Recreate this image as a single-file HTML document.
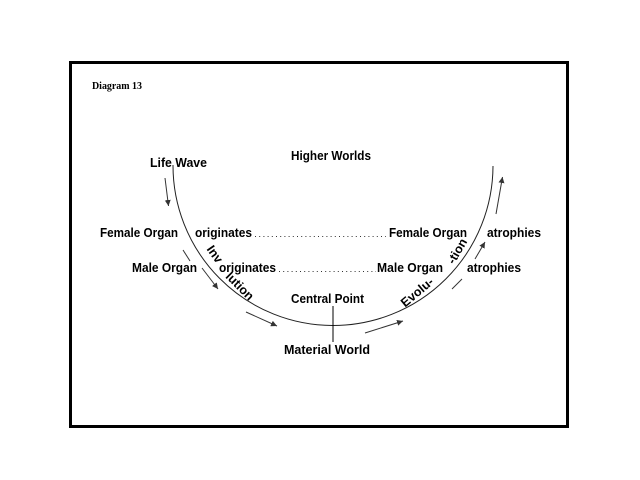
<!DOCTYPE html>
<html>
<head>
<meta charset="utf-8">
<style>
  html, body { margin: 0; padding: 0; background: #fff; }
  svg { display: block; }
  .t { font-family: "Liberation Sans", sans-serif; font-weight: bold; font-size: 12.5px; fill: #000; }
  .d { font-family: "Liberation Serif", serif; font-weight: bold; font-size: 10.5px; fill: #000; }
</style>
</head>
<body>
<svg width="640" height="480" viewBox="0 0 640 480" xmlns="http://www.w3.org/2000/svg">
  <defs>
    <marker id="ah" markerWidth="7" markerHeight="7" refX="6" refY="3" orient="auto" markerUnits="userSpaceOnUse">
      <path d="M0,0 L6,3 L0,6 z" fill="#333"/>
    </marker>
  </defs>
  <rect x="0" y="0" width="640" height="480" fill="#fff"/>
  <!-- frame -->
  <rect x="70.5" y="62.5" width="497" height="364" fill="none" stroke="#000" stroke-width="3"/>

  <text class="d" x="92" y="89" textLength="50" lengthAdjust="spacingAndGlyphs">Diagram 13</text>

  <!-- main U curve -->
  <path d="M173,165 A160,160 0 0 0 493,166" fill="none" stroke="#222" stroke-width="1"/>

  <!-- central vertical line -->
  <line x1="333" y1="306" x2="333" y2="342" stroke="#000" stroke-width="1"/>

  <!-- dotted lines -->
  <line x1="255" y1="236.5" x2="386" y2="236.5" stroke="#333" stroke-width="1" stroke-dasharray="1,3.2"/>
  <line x1="279" y1="271.5" x2="376" y2="271.5" stroke="#333" stroke-width="1" stroke-dasharray="1,3.2"/>

  <!-- arrows -->
  <g stroke="#333" stroke-width="1" fill="none">
    <line x1="165" y1="178" x2="168.5" y2="206" marker-end="url(#ah)"/>
    <line x1="183" y1="250" x2="190" y2="261"/>
    <line x1="202" y1="268" x2="218" y2="289" marker-end="url(#ah)"/>
    <line x1="246" y1="312" x2="277" y2="326" marker-end="url(#ah)"/>
    <line x1="365" y1="333" x2="403" y2="321" marker-end="url(#ah)"/>
    <line x1="452" y1="289" x2="462" y2="279"/>
    <line x1="475" y1="259" x2="485" y2="242" marker-end="url(#ah)"/>
    <line x1="496" y1="214" x2="502.5" y2="177" marker-end="url(#ah)"/>
  </g>

  <!-- labels -->
  <text class="t" x="291" y="160" textLength="80" lengthAdjust="spacingAndGlyphs">Higher Worlds</text>
  <text class="t" x="150" y="167" textLength="57" lengthAdjust="spacingAndGlyphs">Life Wave</text>

  <text class="t" x="100" y="237" textLength="78" lengthAdjust="spacingAndGlyphs">Female Organ</text>
  <text class="t" x="195" y="237" textLength="57" lengthAdjust="spacingAndGlyphs">originates</text>
  <text class="t" x="389" y="237" textLength="78" lengthAdjust="spacingAndGlyphs">Female Organ</text>
  <text class="t" x="487" y="237" textLength="54" lengthAdjust="spacingAndGlyphs">atrophies</text>

  <text class="t" x="132" y="272" textLength="65" lengthAdjust="spacingAndGlyphs">Male Organ</text>
  <text class="t" x="219" y="272" textLength="57" lengthAdjust="spacingAndGlyphs">originates</text>
  <text class="t" x="377" y="272" textLength="66" lengthAdjust="spacingAndGlyphs">Male Organ</text>
  <text class="t" x="467" y="272" textLength="54" lengthAdjust="spacingAndGlyphs">atrophies</text>

  <text class="t" x="291" y="303" textLength="73" lengthAdjust="spacingAndGlyphs">Central Point</text>
  <text class="t" x="284" y="354" textLength="86" lengthAdjust="spacingAndGlyphs">Material World</text>

  <!-- rotated labels -->
  <text class="t" text-anchor="middle" dy="0.35em" transform="translate(215,254) rotate(55)">Inv</text>
  <text class="t" text-anchor="middle" dy="0.35em" transform="translate(240,286) rotate(45)">lution</text>
  <text class="t" text-anchor="middle" dy="0.35em" transform="translate(417,292) rotate(-40)">Evolu-</text>
  <text class="t" text-anchor="middle" dy="0.35em" transform="translate(457,251) rotate(-60)">-tion</text>
</svg>
</body>
</html>
